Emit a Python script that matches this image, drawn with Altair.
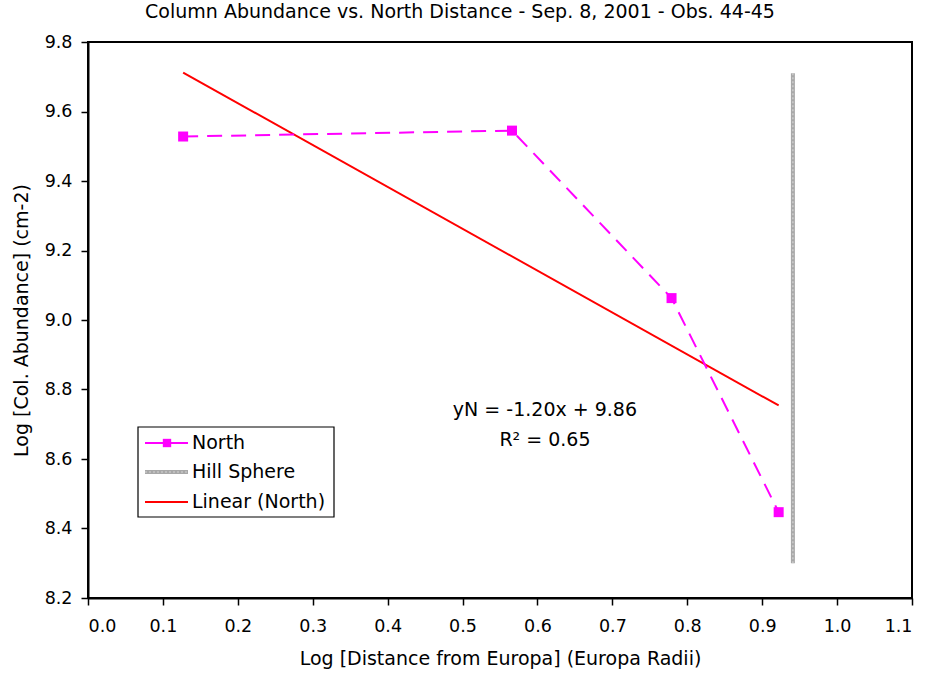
import altair as alt
import pandas as pd

# Data
north_x = [0.127, 0.566, 0.779, 0.922]
north_y = [9.528, 9.545, 9.063, 8.447]
fit_x = [0.127, 0.922]
fit_y = [9.712, 8.754]
hill_x = [0.941]
hill_y = [8.30, 9.71]
x_ticks = [round(i * 0.1, 1) for i in range(12)]
y_ticks = [8.2, 8.4, 8.6, 8.8, 9.0, 9.2, 9.4, 9.6, 9.8]
legend_labels = ["North", "Hill Sphere", "Linear (North)"]
eq_text = ["yN = -1.20x + 9.86", "R² = 0.65"]

FONT = "DejaVu Sans"
FS = 19          # titles, legend, annotation
FL = 17.5        # tick labels
W, H = 824, 556

north_df = pd.DataFrame({"x": north_x, "y": north_y})
fit_df = pd.DataFrame({"x": fit_x, "y": fit_y})
hill_df = pd.DataFrame({"x": hill_x, "y": [hill_y[0]], "y2": [hill_y[1]]})

xs = alt.Scale(domain=[0, 1.1], nice=False, zero=False)
ys = alt.Scale(domain=[8.2, 9.8], nice=False, zero=False)

common = dict(grid=False, tickColor="black", domainColor="black", tickSize=7,
              tickWidth=1.5, domainWidth=2,
              labelFont=FONT, labelFontSize=FL, labelColor="black",
              titleFont=FONT, titleFontSize=FS, titleFontWeight="normal", titleColor="black")

xenc = alt.X("x:Q", scale=xs, axis=alt.Axis(
    values=x_ticks, format=".1f", title="Log [Distance from Europa] (Europa Radii)",
    labelPadding=12, titlePadding=15, **common))
yenc = alt.Y("y:Q", scale=ys, axis=alt.Axis(
    values=y_ticks, format=".1f", title="Log [Col. Abundance] (cm-2)",
    labelPadding=9, titlePadding=13, **common))

hill_outer = alt.Chart(hill_df).mark_rule(color="#a8a8a8", strokeWidth=4).encode(
    x=xenc, y=yenc, y2="y2:Q")
hill_inner = alt.Chart(hill_df).mark_rule(color="#d4d4d4", strokeWidth=1.2, strokeDash=[2, 2]).encode(
    x="x:Q", y="y:Q", y2="y2:Q")

fit = alt.Chart(fit_df).mark_line(color="#ff0000", strokeWidth=2).encode(x="x:Q", y="y:Q")
north_line = alt.Chart(north_df).mark_line(color="#ff00ff", strokeWidth=2, strokeDash=[15, 9]).encode(
    x="x:Q", y="y:Q")
north_pts = alt.Chart(north_df).mark_square(color="#ff00ff", size=100, opacity=1).encode(
    x="x:Q", y="y:Q")

eq_df = pd.DataFrame({"t": eq_text, "x": [0.61, 0.61], "y": [8.741, 8.655]})
eq = alt.Chart(eq_df).mark_text(font=FONT, fontSize=FS, color="black", align="center",
                                baseline="middle").encode(x="x:Q", y="y:Q", text="t:N")

one = alt.Data(values=[{"a": 1}])
leg_box = alt.Chart(one).mark_rect(fill="white", stroke="black", strokeWidth=1.2).encode(
    x=alt.value(50), x2=alt.value(246), y=alt.value(385), y2=alt.value(475))
leg_rows = [401, 430, 460]
leg_n_line = alt.Chart(one).mark_rule(color="#ff00ff", strokeWidth=2).encode(
    x=alt.value(57), x2=alt.value(100), y=alt.value(leg_rows[0]))
leg_n_sq = alt.Chart(one).mark_square(color="#ff00ff", size=70, opacity=1).encode(
    x=alt.value(79), y=alt.value(leg_rows[0]))
leg_h1 = alt.Chart(one).mark_rule(color="#a8a8a8", strokeWidth=4).encode(
    x=alt.value(57), x2=alt.value(100), y=alt.value(leg_rows[1]))
leg_h2 = alt.Chart(one).mark_rule(color="#d4d4d4", strokeWidth=1.2, strokeDash=[2, 2]).encode(
    x=alt.value(57), x2=alt.value(100), y=alt.value(leg_rows[1]))
leg_l = alt.Chart(one).mark_rule(color="#ff0000", strokeWidth=2).encode(
    x=alt.value(57), x2=alt.value(100), y=alt.value(leg_rows[2]))
leg_text_df = pd.DataFrame({"t": legend_labels, "py": leg_rows})
leg_text = alt.Chart(leg_text_df).mark_text(font=FONT, fontSize=FS, color="black", align="left",
                                            baseline="middle").encode(
    x=alt.value(104), y=alt.Y("py:Q", scale=None), text="t:N")

chart = alt.layer(
    hill_outer, hill_inner, fit, north_line, north_pts, eq,
    leg_box, leg_n_line, leg_n_sq, leg_h1, leg_h2, leg_l, leg_text
).properties(
    width=W, height=H,
    title=alt.Title("Column Abundance vs. North Distance - Sep. 8, 2001 - Obs. 44-45",
                    font=FONT, fontSize=FS, fontWeight="normal", color="black",
                    anchor="middle", offset=11, dx=-40),
    autosize=alt.AutoSizeParams(type="none"),
    padding={"left": 88, "top": 42, "right": 19, "bottom": 81},
    background="white",
).configure_view(stroke="black", strokeWidth=2)

chart.save("out.html", embed_options={"renderer": "svg", "actions": False})
